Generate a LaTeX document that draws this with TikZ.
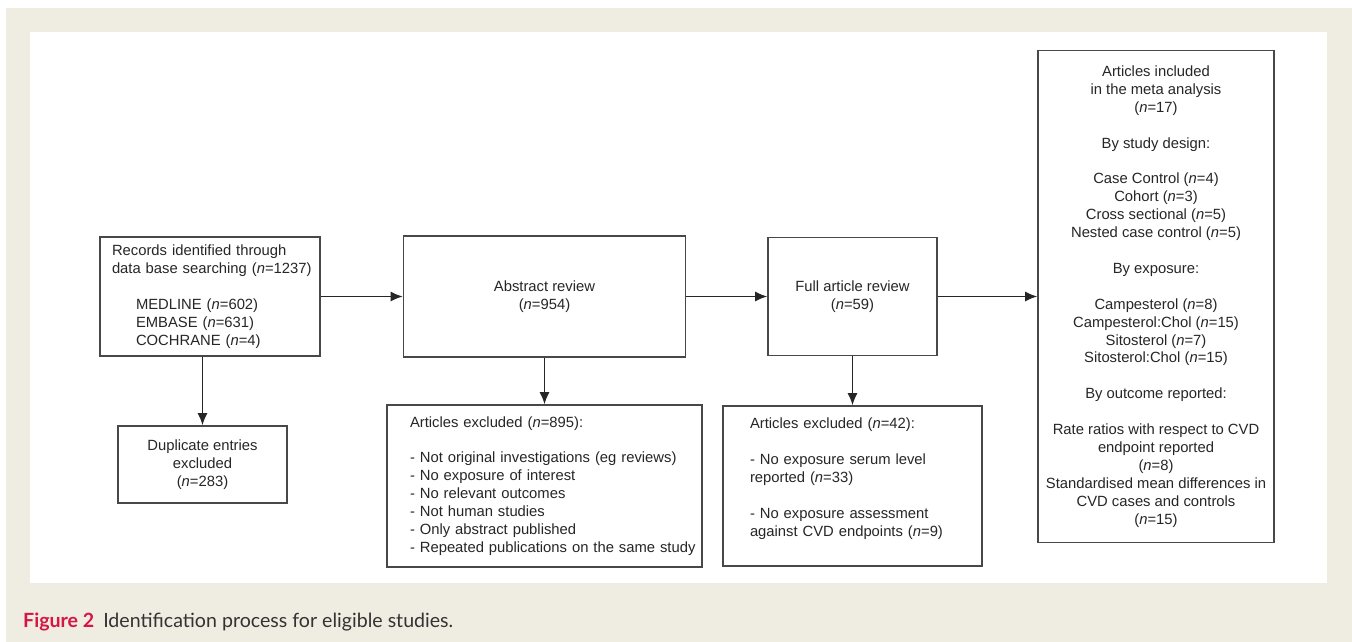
\documentclass[tikz,border=0pt]{standalone}
\usepackage{fontspec}
\setmainfont{Liberation Sans}
\newfontfamily\capfont{Lato}
\usetikzlibrary{arrows.meta}
\definecolor{pagebeige}{RGB}{239,236,226}
\definecolor{figred}{RGB}{212,22,68}
\definecolor{boxgray}{RGB}{72,72,72}
\tikzset{
  stage/.style={draw=boxgray, line width=1.6pt, align=center, inner sep=0pt, text=black!85},
  listbox/.style={stage, align=left, text width=#1, inner xsep=0pt},
  flow/.style={draw=black!85, line width=1.4pt, -{Latex[length=12pt,width=10pt]}},
}
\begin{document}
\begin{tikzpicture}[x=1pt,y=-1pt,font=\fontsize{14.8}{17.9}\selectfont]
				\fill[pagebeige] (6,8) rectangle (1352,642);
				\fill[white] (30,32) rectangle (1327,583);
				\useasboundingbox (0,0) rectangle (1352,642);
				% top row
				\node[listbox=220pt, minimum height=119pt] (rec) at (210,296.5) {\leftskip=12pt Records identified through\\ data base searching (\textit{n}=1237)\\[17.9pt] \hspace*{24pt}MEDLINE (\textit{n}=602)\\ \hspace*{24pt}EMBASE (\textit{n}=631)\\ \hspace*{24pt}COCHRANE (\textit{n}=4)\par};
				\node[stage, minimum width=282pt, minimum height=121pt] (abs) at (544.5,296.5) {Abstract review\\ (\textit{n}=954)};
				\node[stage, minimum width=169pt, minimum height=118pt] (full) at (852.5,296.5) {Full article review\\ (\textit{n}=59)};
				\node[stage, minimum width=236pt, minimum height=492pt] (incl) at (1156,296.5) {Articles included\\ in the meta analysis\\ (\textit{n}=17)\\[17.9pt] By study design:\\[17.9pt] Case Control (\textit{n}=4)\\ Cohort (\textit{n}=3)\\ Cross sectional (\textit{n}=5)\\ Nested case control (\textit{n}=5)\\[17.9pt] By exposure:\\[17.9pt] Campesterol (\textit{n}=8)\\ Campesterol:Chol (\textit{n}=15)\\ Sitosterol (\textit{n}=7)\\ Sitosterol:Chol (\textit{n}=15)\\[17.9pt] By outcome reported:\\[17.9pt] Rate ratios with respect to CVD\\ endpoint reported\\ (\textit{n}=8)\\ Standardised mean differences in\\ CVD cases and controls\\ (\textit{n}=15)};
				% exclusions
				\node[stage, minimum width=169pt, minimum height=77pt] (dup) at (202.5,464.5) {Duplicate entries\\ excluded\\ (\textit{n}=283)};
				\node[listbox=315pt, minimum height=162pt] (abexc) at (544.5,486) {\leftskip=23pt Articles excluded (\textit{n}=895):\\[17.9pt] - Not original investigations (eg reviews)\\ - No exposure of interest\\ - No relevant outcomes\\ - Not human studies\\ - Only abstract published\\ \mbox{- Repeated publications on the same study}\par};
				\node[listbox=259pt, minimum height=160pt] (fullexc) at (852.5,486) {\leftskip=27pt Articles excluded (\textit{n}=42):\\[17.9pt] - No exposure serum level\\ reported (\textit{n}=33)\\[17.9pt] - No exposure assessment\\ against CVD endpoints (\textit{n}=9)\\ \mbox{}\par};
				% connectors
				\draw[flow] (rec) -- (abs);
				\draw[flow] (abs) -- (full);
				\draw[flow] (full) -- (incl);
				\draw[flow] (rec.south -| dup.north) -- (dup.north);
				\draw[flow] (abs) -- (abexc);
				\draw[flow] (full) -- (fullexc);
				% caption
				\node[anchor=base west, inner sep=0pt, text=black!80, font=\capfont\fontsize{19.6}{22}\selectfont] (cap) at (23,627) {\textcolor{figred}{\bfseries Figure 2}\hspace{9pt}Identification process for eligible studies.};
\end{tikzpicture}
\end{document}
